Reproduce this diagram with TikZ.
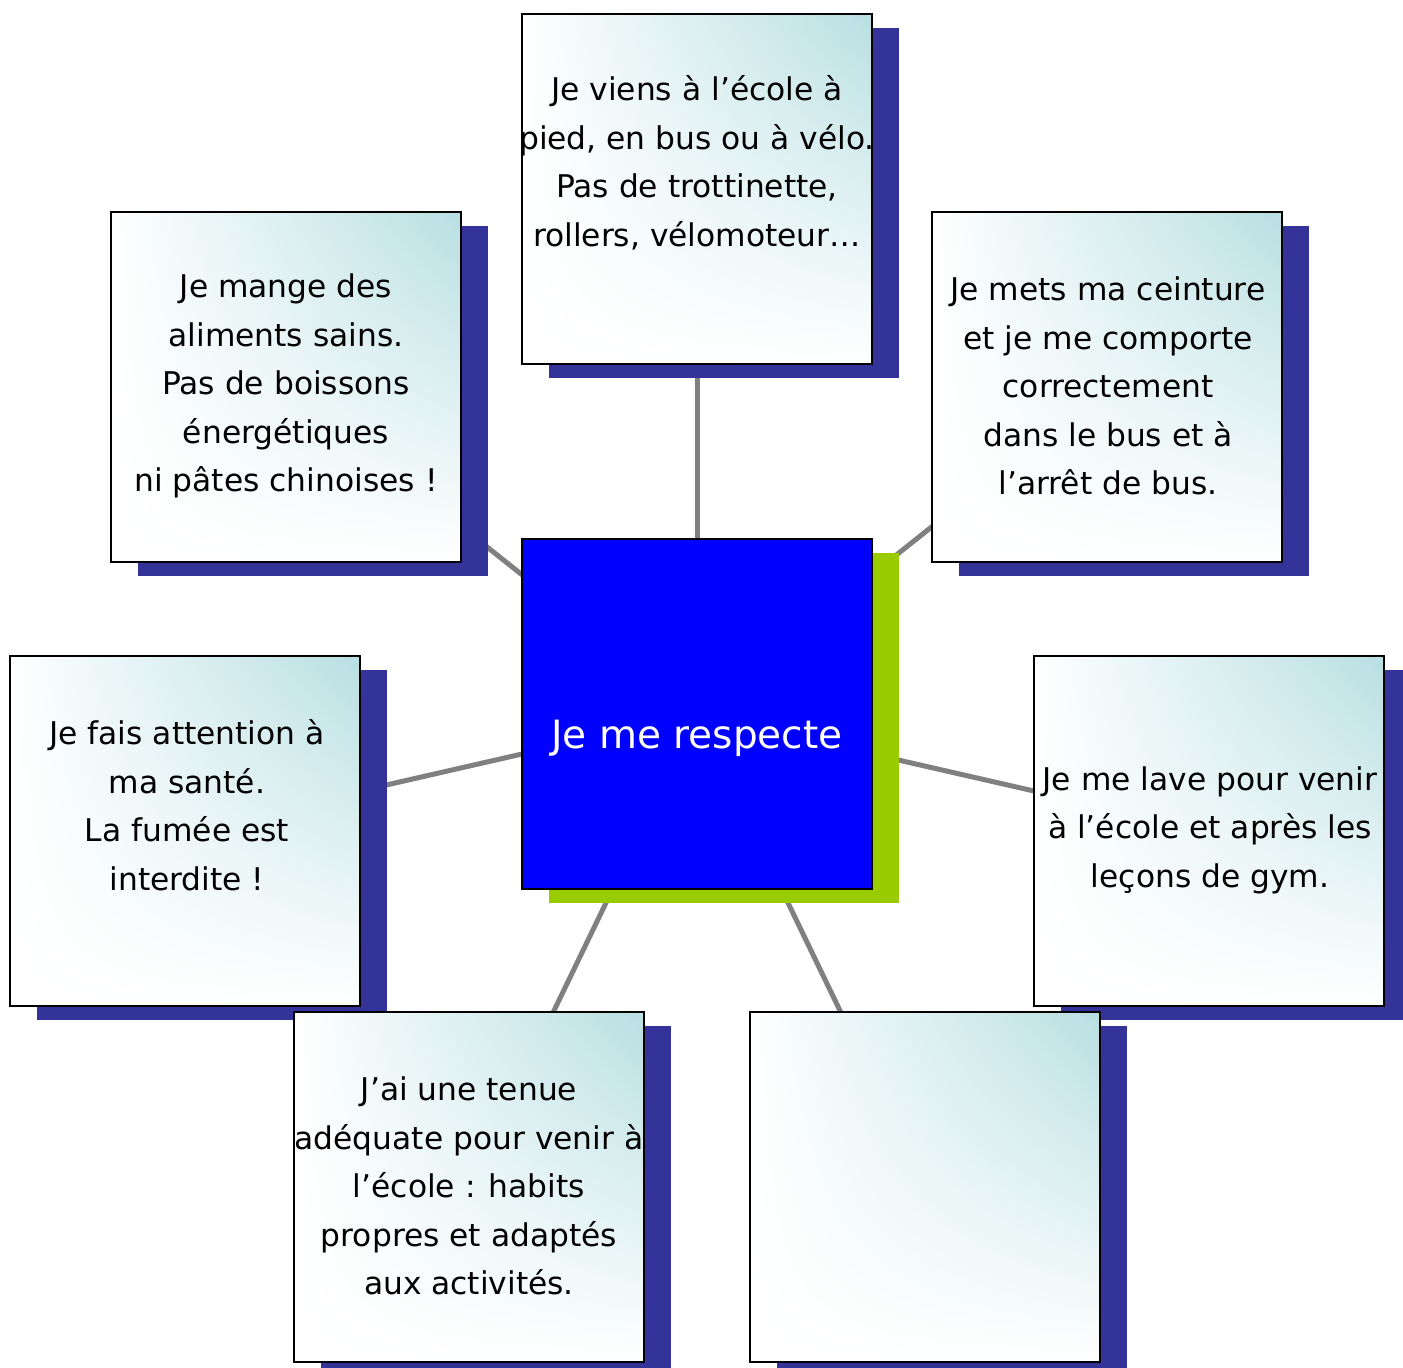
\documentclass[tikz,border=0pt]{standalone}
\usepackage{fontspec}
\setmainfont{DejaVu Sans}
\usetikzlibrary{shadows,backgrounds,shadings}
\definecolor{tealtop}{RGB}{184,223,226}
\definecolor{shadowblue}{RGB}{52,51,153}
\definecolor{greenshadow}{RGB}{153,204,0}
\definecolor{centerblue}{RGB}{0,0,255}
\definecolor{conngray}{RGB}{128,128,128}
\tikzset{
  card/.style={rectangle, draw=black, line width=2pt, inner sep=0pt,
    minimum width=350pt, minimum height=350pt,
    shading=bilinear interpolation,
    upper left=white, upper right=tealtop, lower left=white, lower right=white,
    drop shadow={shadow xshift=27pt, shadow yshift=-14pt, fill=shadowblue, opacity=1}},
  hub/.style={rectangle, draw=black, line width=2pt, inner sep=0pt,
    minimum width=350pt, minimum height=350pt, fill=centerblue,
    drop shadow={shadow xshift=27pt, shadow yshift=-14pt, fill=greenshadow, opacity=1}},
  cardtext/.style={align=center, text=black, inner sep=0pt,
    font=\fontsize{31.3}{48.5}\selectfont},
  hubtext/.style={text=white, inner sep=0pt, font=\fontsize{39}{46}\selectfont},
  conn/.style={draw=conngray, line width=5pt}
}
\begin{document}
\begin{tikzpicture}[x=1pt, y=-1pt]
\useasboundingbox (0,0) rectangle (1403,1368);
\clip (0,0) rectangle (1403,1368);
% boxes
\node[hub]  (c)  at (697,714)  {};
\node[card] (t)  at (697,189)  {};
\node[card] (tl) at (286,387)  {};
\node[card] (tr) at (1107,387) {};
\node[card] (l)  at (185,831)  {};
\node[card] (r)  at (1209,831) {};
\node[card] (bl) at (469,1187) {};
\node[card] (br) at (925,1187) {};
% connectors behind everything
\begin{scope}[on background layer]
  \draw[conn] (c.center) -- (t.center);
  \draw[conn] (c.center) -- (tl.center);
  \draw[conn] (c.center) -- (tr.center);
  \draw[conn] (c.center) -- (l.center);
  \draw[conn] (c.center) -- (r.center);
  \draw[conn] (c.center) -- (bl.center);
  \draw[conn] (c.center) -- (br.center);
\end{scope}
% texts
\node[hubtext] (ctext) at (697,738) {Je me respecte};
\node[cardtext] (ttext) at (697,163) {Je viens à l’école à\\pied, en bus ou à vélo.\\Pas de trottinette,\\rollers, vélomoteur…};
\node[cardtext] (tltext) at (286,386) {Je mange des\\aliments sains.\\Pas de boissons\\énergétiques\\ni pâtes chinoises !};
\node[cardtext] (trtext) at (1108,386) {Je mets ma ceinture\\et je me comporte\\correctement\\dans le bus et à\\l’arrêt de bus.};
\node[cardtext] (ltext) at (187,805) {Je fais attention à\\ma santé.\\La fumée est\\interdite !};
\node[cardtext] (rtext) at (1210,830) {Je me lave pour venir\\à l’école et après les\\leçons de gym.};
\node[cardtext] (bltext) at (469,1186) {J’ai une tenue\\adéquate pour venir à\\l’école : habits\\propres et adaptés\\aux activités.};
\end{tikzpicture}
\end{document}
